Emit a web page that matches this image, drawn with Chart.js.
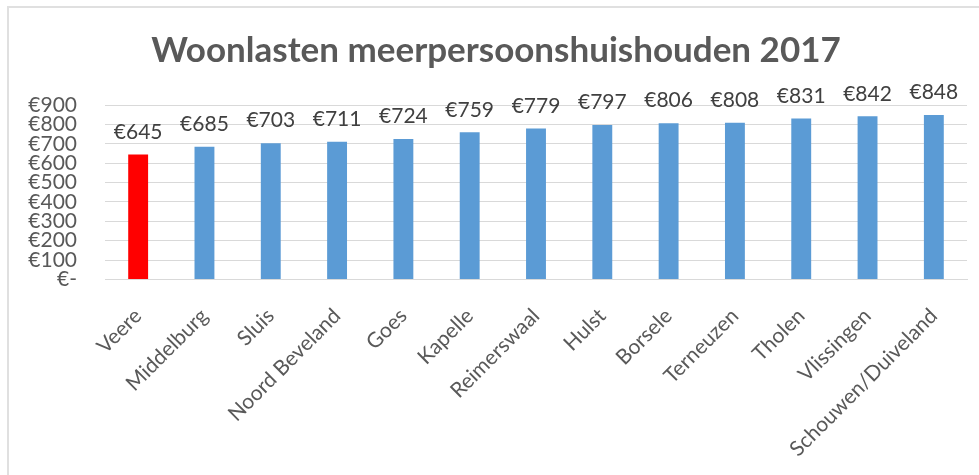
<!DOCTYPE html>
<html>
<head>
<meta charset="utf-8">
<script src="https://cdn.jsdelivr.net/npm/chart.js@4"></script>
<style>
  html, body { margin: 0; padding: 0; background: #fff; }
  #wrap { position: relative; width: 979px; height: 475px; overflow: hidden; }
  #frame { position: absolute; left: 7px; top: 6px; right: -5px; bottom: -5px;
           border-left: 2px solid #e0e0e0; border-top: 2px solid #e0e0e0; }
  canvas { position: absolute; left: 0; top: 0; }
</style>
</head>
<body>
<div id="wrap">
  <div id="frame"></div>
  <canvas id="myChart" width="979" height="475"></canvas>
</div>
<script>
const gemeenten = ['Veere', 'Middelburg', 'Sluis', 'Noord Beveland', 'Goes', 'Kapelle',
  'Reimerswaal', 'Hulst', 'Borsele', 'Terneuzen', 'Tholen', 'Vlissingen', 'Schouwen/Duiveland'];
const woonlasten = [645, 685, 703, 711, 724, 759, 779, 797, 806, 808, 831, 842, 848];
const barColors = ['#FF0000', '#5B9BD5', '#5B9BD5', '#5B9BD5', '#5B9BD5', '#5B9BD5',
  '#5B9BD5', '#5B9BD5', '#5B9BD5', '#5B9BD5', '#5B9BD5', '#5B9BD5', '#5B9BD5'];

const fontName = 'Lato';
const textColor = '#595959';

// labels above the bars
const valueLabels = {
  id: 'valueLabels',
  afterDatasetsDraw(chart) {
    const ctx = chart.ctx;
    const meta = chart.getDatasetMeta(0);
    ctx.save();
    ctx.font = '21px ' + fontName;
    ctx.fillStyle = '#404040';
    ctx.textAlign = 'center';
    ctx.textBaseline = 'bottom';
    meta.data.forEach((bar, i) => {
      ctx.fillText('€' + woonlasten[i], bar.x, bar.y - 12);
    });
    ctx.restore();
  }
};

const ctx = document.getElementById('myChart').getContext('2d');
const chart = new Chart(ctx, {
  type: 'bar',
  data: {
    labels: gemeenten,
    datasets: [{
      label: 'Woonlasten',
      data: woonlasten,
      backgroundColor: barColors,
      categoryPercentage: 1,
      barPercentage: 0.3
    }]
  },
  options: {
    responsive: false,
    animation: false,
    layout: { padding: { left: 25, right: 12, top: 0, bottom: 0 } },
    plugins: {
      legend: { display: false },
      tooltip: { enabled: false },
      title: {
        display: true,
        text: 'Woonlasten meerpersoonshuishouden 2017',
        color: textColor,
        font: { family: fontName, size: 35, weight: 'bold', lineHeight: 1.2 },
        padding: { top: 30, bottom: 33 }
      }
    },
    scales: {
      y: {
        min: 0,
        max: 900,
        ticks: {
          stepSize: 100,
          color: textColor,
          font: { family: fontName, size: 21 },
          padding: 28,
          autoSkip: false,
          callback: (v) => v === 0 ? '€-' : '€' + v
        },
        grid: { color: '#d9d9d9', drawTicks: false },
        border: { display: false },
        afterFit: (s) => { s.width = 80; }
      },
      x: {
        ticks: {
          color: textColor,
          font: { family: fontName, size: 21 },
          minRotation: 45,
          maxRotation: 45,
          autoSkip: false,
          padding: 16
        },
        grid: { display: false },
        border: { color: '#d9d9d9' },
        afterFit: (s) => { s.height = 195.5; }
      }
    }
  },
  plugins: [valueLabels]
});
</script>
</body>
</html>
